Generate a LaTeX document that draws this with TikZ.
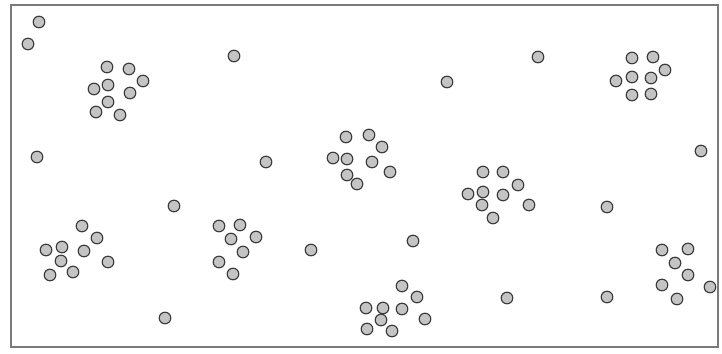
\documentclass[tikz,border=0pt]{standalone}
\usetikzlibrary{positioning}
\definecolor{c1}{HTML}{3A3A3A}
\definecolor{c2}{HTML}{C4C4C4}
\definecolor{framecolor}{HTML}{7A7A7A}

\begin{document}
\begin{tikzpicture}[
    x=0.025cm, y=-0.025cm,
    dot/.style={circle, draw=c1, fill=c2, line width=0.8pt,
                minimum size=0.29cm, inner sep=0pt},
    box/.style={draw=framecolor, line width=1.3pt},
]
\useasboundingbox (0,0) rectangle (722,354);
\draw[box] (11,5) rectangle (718,347);

% single points
\foreach \x/\y [count=\i] in {39/22, 28/44, 234/56, 37/157, 447/82, 266/162,
    538/57, 701/151, 174/206, 165/318, 311/250, 413/241, 607/207,
    507/298, 607/297}{
    \node[dot] (s\i) at (\x,\y) {};
}

% clusters, top row
\foreach \x/\y [count=\i] in {107/67, 129/69, 143/81, 94/89, 108/85,
    130/93, 108/102, 96/112, 120/115}{
    \node[dot] (a\i) at (\x,\y) {};
}
\foreach \x/\y [count=\i] in {632/58, 653/57, 665/70, 616/81, 632/77,
    651/78, 632/95, 651/94}{
    \node[dot] (d\i) at (\x,\y) {};
}

% clusters, middle row
\foreach \x/\y [count=\i] in {346/137, 369/135, 382/147, 333/158, 347/159,
    372/162, 390/172, 347/175, 357/184}{
    \node[dot] (b\i) at (\x,\y) {};
}
\foreach \x/\y [count=\i] in {483/172, 503/172, 518/185, 468/194, 483/192,
    503/195, 529/205, 482/205, 493/218}{
    \node[dot] (c\i) at (\x,\y) {};
}

% clusters, bottom row
\foreach \x/\y [count=\i] in {82/226, 97/238, 46/250, 62/247, 84/251,
    108/262, 61/261, 50/275, 73/272}{
    \node[dot] (e\i) at (\x,\y) {};
}
\foreach \x/\y [count=\i] in {219/226, 240/225, 256/237, 231/239, 243/252,
    219/262, 233/274}{
    \node[dot] (f\i) at (\x,\y) {};
}
\foreach \x/\y [count=\i] in {402/286, 417/297, 366/308, 383/308, 402/309,
    425/319, 381/320, 367/329, 392/331}{
    \node[dot] (g\i) at (\x,\y) {};
}
\foreach \x/\y [count=\i] in {662/250, 688/249, 675/263, 688/275, 662/285,
    710/287, 677/299}{
    \node[dot] (h\i) at (\x,\y) {};
}
\end{tikzpicture}
\end{document}
